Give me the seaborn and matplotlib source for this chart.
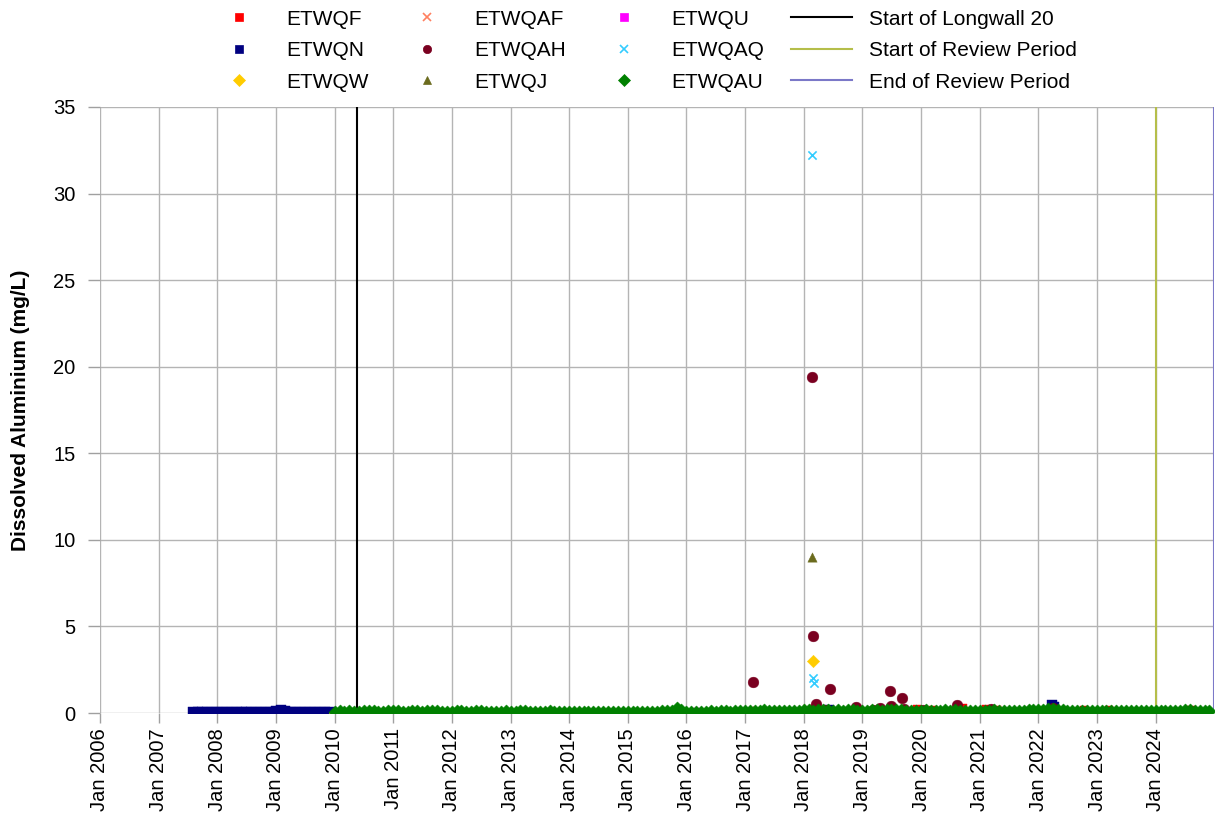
import matplotlib
matplotlib.use("Agg")
import matplotlib.pyplot as plt
import matplotlib.dates as mdates
from matplotlib.lines import Line2D
import pandas as pd
import seaborn as sns

# ---- data (mg/L) ----
# ETWQN, monthly Aug 2007 - Dec 2009
qn_start = "2007-08-01"
qn_vals = [0.05, 0.06, 0.04, 0.07, 0.05, 0.06, 0.08, 0.05, 0.07, 0.06, 0.04, 0.05,
           0.06, 0.07, 0.05, 0.06, 0.08, 0.10, 0.20, 0.09, 0.07, 0.06, 0.05, 0.07,
           0.06, 0.05, 0.07, 0.06, 0.05]
qn_extra_dates = ["2018-03-20", "2018-06-10", "2022-03-25", "2022-04-10"]
qn_extra_vals = [0.15, 0.2, 0.45, 0.35]

# ETWQAU, monthly Jan 2010 - Dec 2024
qau_start = "2010-01-01"
qau_vals = [
    0.08, 0.10, 0.07, 0.09, 0.06, 0.08, 0.10, 0.12, 0.09, 0.07, 0.08, 0.10,  # 2010
    0.09, 0.11, 0.08, 0.07, 0.10, 0.09, 0.08, 0.10, 0.12, 0.09, 0.08, 0.07,  # 2011
    0.08, 0.09, 0.10, 0.08, 0.07, 0.09, 0.11, 0.08, 0.07, 0.06, 0.08, 0.09,  # 2012
    0.07, 0.08, 0.09, 0.10, 0.08, 0.07, 0.06, 0.08, 0.09, 0.07, 0.06, 0.08,  # 2013
    0.06, 0.07, 0.05, 0.06, 0.08, 0.07, 0.06, 0.05, 0.07, 0.06, 0.05, 0.06,  # 2014
    0.06, 0.05, 0.07, 0.06, 0.08, 0.06, 0.07, 0.09, 0.10, 0.12, 0.30, 0.15,  # 2015
    0.08, 0.07, 0.06, 0.08, 0.07, 0.09, 0.08, 0.10, 0.09, 0.08, 0.10, 0.09,  # 2016
    0.12, 0.14, 0.10, 0.12, 0.15, 0.11, 0.13, 0.10, 0.12, 0.14, 0.11, 0.13,  # 2017
    0.15, 0.18, 0.14, 0.20, 0.16, 0.15, 0.13, 0.17, 0.14, 0.16, 0.15, 0.13,  # 2018
    0.14, 0.12, 0.15, 0.18, 0.14, 0.20, 0.16, 0.15, 0.19, 0.14, 0.12, 0.13,  # 2019
    0.12, 0.15, 0.14, 0.12, 0.13, 0.15, 0.14, 0.16, 0.13, 0.12, 0.14, 0.13,  # 2020
    0.12, 0.11, 0.13, 0.15, 0.12, 0.10, 0.12, 0.11, 0.13, 0.14, 0.15, 0.17,  # 2021
    0.18, 0.20, 0.22, 0.25, 0.20, 0.16, 0.14, 0.12, 0.13, 0.11, 0.12, 0.14,  # 2022
    0.12, 0.10, 0.11, 0.13, 0.12, 0.10, 0.11, 0.12, 0.10, 0.11, 0.12, 0.13,  # 2023
    0.12, 0.11, 0.10, 0.12, 0.11, 0.13, 0.15, 0.17, 0.14, 0.12, 0.11, 0.12,  # 2024
]

# ETWQW, monthly Jan 2010 - Dec 2016, plus the 2018 spike
qw_start = "2010-01-01"
qw_vals = [
    0.00, 0.01, 0.00, 0.00, 0.01, 0.00, 0.01, 0.00, 0.00, 0.01, 0.00, 0.01,
    0.01, 0.00, 0.00, 0.01, 0.00, 0.01, 0.00, 0.00, 0.01, 0.00, 0.01, 0.00,
    0.00, 0.01, 0.00, 0.01, 0.00, 0.00, 0.01, 0.00, 0.01, 0.00, 0.01, 0.00,
    0.01, 0.00, 0.00, 0.01, 0.00, 0.01, 0.00, 0.01, 0.00, 0.01, 0.00, 0.00,
    0.01, 0.00, 0.00, 0.01, 0.00, 0.01, 0.00, 0.01, 0.00, 0.01, 0.00, 0.01,
    0.00, 0.01, 0.00, 0.01, 0.00, 0.00, 0.01, 0.00, 0.01, 0.00, 0.00, 0.01,
    0.01, 0.00, 0.01, 0.00, 0.01, 0.00, 0.01, 0.00, 0.00, 0.01, 0.00, 0.01,
]
qw_extra_dates = ["2018-02-25"]
qw_extra_vals = [3.0]

qah_dates = ["2017-02-20", "2018-02-20", "2018-02-26", "2018-03-15", "2018-05-10",
             "2018-06-15", "2018-11-20", "2019-03-10", "2019-04-20", "2019-06-20",
             "2019-06-28", "2019-09-05", "2019-09-20", "2020-01-15", "2020-08-10",
             "2021-03-10", "2022-04-05"]
qah_vals = [1.8, 19.4, 4.45, 0.5, 0.15, 1.4, 0.35, 0.2, 0.3, 1.25,
            0.4, 0.85, 0.25, 0.2, 0.45, 0.25, 0.3]

qj_dates = ["2018-02-22", "2018-06-01", "2019-06-01"]
qj_vals = [9.0, 0.1, 0.1]

qaq_dates = ["2018-02-18", "2018-02-27", "2018-03-05"]
qaq_vals = [32.2, 2.0, 1.75]

qf_dates = ["2019-12-10", "2020-03-15", "2020-09-20", "2021-02-10", "2021-04-15",
            "2022-10-10", "2023-03-15", "2024-08-10"]
qf_vals = [0.25, 0.2, 0.3, 0.25, 0.2, 0.2, 0.15, 0.2]

qaf_dates = ["2017-03-10", "2017-06-15", "2018-01-20", "2018-03-25", "2020-02-15",
             "2021-04-20"]
qaf_vals = [0.2, 0.15, 0.3, 0.25, 0.15, 0.25]

qu_dates = ["2016-03-10", "2019-10-10"]
qu_vals = [0.05, 0.1]

longwall_start = "2010-05-20"
review_start = "2024-01-01"
review_end = "2024-12-31"


def monthly(start, vals):
    return pd.DataFrame({"date": pd.date_range(start, periods=len(vals), freq="MS"), "val": vals})


def spot(dates, vals):
    return pd.DataFrame({"date": pd.to_datetime(dates), "val": vals})


series = [
    ("ETWQF", spot(qf_dates, qf_vals), "#FF0000", "s", 30),
    ("ETWQN", pd.concat([monthly(qn_start, qn_vals), spot(qn_extra_dates, qn_extra_vals)]), "#000080", "s", 48),
    ("ETWQW", pd.concat([monthly(qw_start, qw_vals), spot(qw_extra_dates, qw_extra_vals)]), "#FFCC00", "D", 40),
    ("ETWQAF", spot(qaf_dates, qaf_vals), "#FF8060", "x", 30),
    ("ETWQAH", spot(qah_dates, qah_vals), "#7A0020", "o", 60),
    ("ETWQJ", spot(qj_dates, qj_vals), "#6B6B1E", "^", 45),
    ("ETWQU", spot(qu_dates, qu_vals), "#FF00FF", "s", 30),
    ("ETWQAQ", spot(qaq_dates, qaq_vals), "#33CCFF", "x", 35),
    ("ETWQAU", monthly(qau_start, qau_vals), "#008000", "D", 45),
]

plt.rcParams["font.family"] = ["Liberation Sans", "DejaVu Sans"]
fig = plt.figure(figsize=(12.15, 8.19), dpi=100)
ax = fig.add_axes([0.0823, 0.1294, 0.9172, 0.7400])

handles = []
for name, df, col, mk, sz in series:
    kw = dict(linewidths=1.2) if mk == "x" else dict(edgecolor=col, linewidth=0.3)
    sns.scatterplot(data=df, x="date", y="val", color=col, marker=mk, s=sz, ax=ax, zorder=3, **kw)
    handles.append(Line2D([], [], linestyle="none", marker=mk, color=col, markersize=6,
                          markeredgewidth=1.2 if mk == "x" else 0.5, label=name))

ax.axvline(pd.Timestamp(longwall_start), color="black", lw=1.5, zorder=2)
ax.axvline(pd.Timestamp(review_start), color="#B5BE4A", lw=1.5, zorder=2)
ax.axvline(pd.Timestamp(review_end), color="#7B78C8", lw=1.5, zorder=2)
handles += [Line2D([], [], color="black", lw=1.5, label="Start of Longwall 20"),
            Line2D([], [], color="#B5BE4A", lw=1.5, label="Start of Review Period"),
            Line2D([], [], color="#7B78C8", lw=1.5, label="End of Review Period")]

ax.set_xlim(pd.Timestamp("2006-01-01"), pd.Timestamp("2025-01-01"))
ax.set_ylim(0, 35)
ax.set_yticks(range(0, 36, 5))
ax.xaxis.set_major_locator(mdates.YearLocator())
ax.xaxis.set_major_formatter(mdates.DateFormatter("Jan %Y"))
ax.set_xticks([t for t in ax.get_xticks() if t < mdates.date2num(pd.Timestamp("2024-06-01"))])
plt.setp(ax.get_xticklabels(), rotation=90)
ax.tick_params(axis="both", labelsize=14.5, color="#A0A0A0", width=1)
ax.tick_params(axis="y", length=8.5, pad=9)
ax.tick_params(axis="x", length=7.5, pad=3.5)
ax.grid(True, color="#B4B4B4", lw=1)
ax.set_axisbelow(True)
for s in ax.spines.values():
    s.set_visible(False)
ax.set_xlabel("")
ax.set_ylabel("Dissolved Aluminium (mg/L)", fontsize=15, fontweight="bold")
ax.yaxis.set_label_coords(-0.063, 0.5)

fig.legend(handles=handles, loc="upper center", bbox_to_anchor=(0.529, 1.011), ncol=4,
           frameon=False, fontsize=15, handlelength=2.93, handletextpad=0.82,
           columnspacing=1.3, labelspacing=0.6)

plt.savefig("out.png", dpi=100)
